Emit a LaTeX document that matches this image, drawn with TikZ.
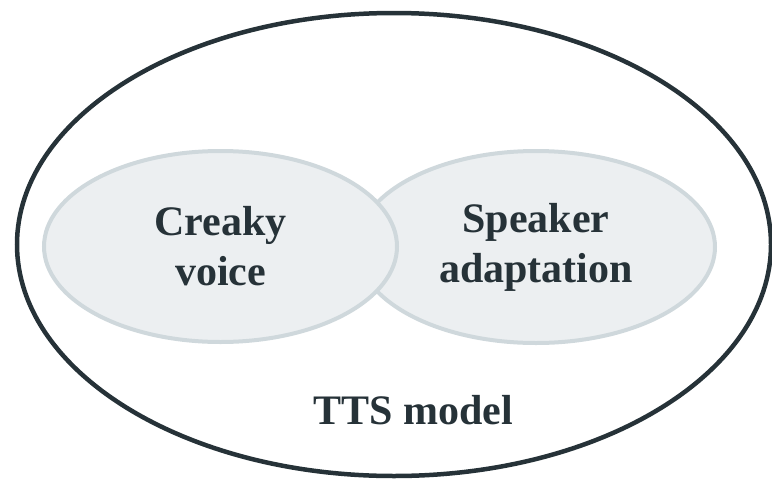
\documentclass[tikz,border=0pt]{standalone}
\usepackage{fontspec}
\setmainfont{Liberation Serif}
\usetikzlibrary{shapes.geometric}
\definecolor{inkgrey}{HTML}{263238}
\definecolor{blobfill}{HTML}{ECEFF1}
\definecolor{blobline}{HTML}{CFD8DC}
\begin{document}
\begin{tikzpicture}[x=1pt,y=-1pt,
  txt/.style={font=\bfseries\fontsize{42}{50}\selectfont,text=inkgrey,align=center},
  outer/.style={draw=inkgrey,line width=4.5pt,ellipse,inner sep=0pt},
  blob/.style={txt,draw=blobline,fill=blobfill,line width=4pt,ellipse,inner sep=0pt}]
\useasboundingbox (0,0) rectangle (772,480);
\node[outer,minimum width=754pt,minimum height=463pt] (tts) at (394,244.5) {};
\node[blob,minimum width=358pt,minimum height=192pt] (spk) at (536,247) {Speaker\\adaptation};
\node[blob,minimum width=353pt,minimum height=191pt] (creaky) at (220.5,246.5) {Creaky\\voice};
\node[txt,anchor=base] (label) at (413,424) {TTS model};
\end{tikzpicture}
\end{document}
